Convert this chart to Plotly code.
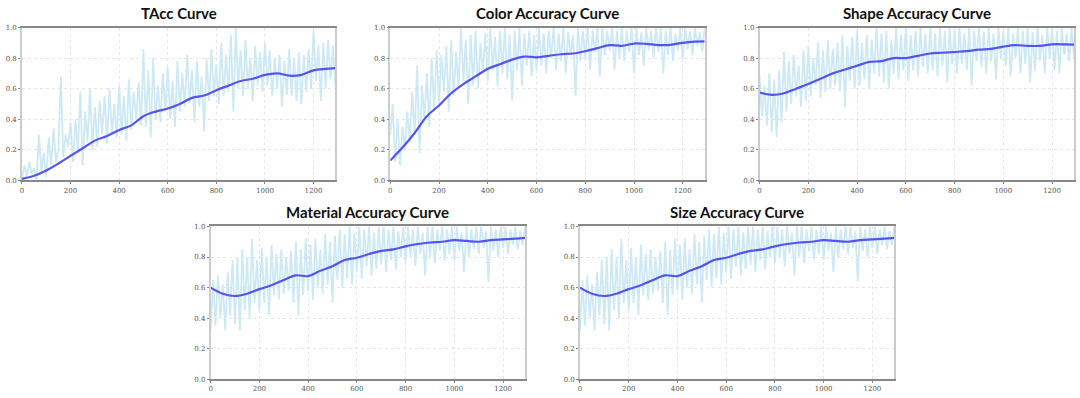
import plotly.graph_objects as go

# ---------------- data ----------------
steps_noisy = list(range(0, 1300, 10))          # 130 training checkpoints
steps_smooth = list(range(0, 1300, 50)) + [1290]  # smoothed curve checkpoints

tacc_noisy = [
    0.00, 0.10, 0.02, 0.12, 0.04, 0.08, 0.00, 0.30, 0.05, 0.18,
    0.02, 0.28, 0.10, 0.34, 0.12, 0.20, 0.68, 0.15, 0.30, 0.22,
    0.38, 0.12, 0.40, 0.18, 0.58, 0.10, 0.45, 0.25, 0.60, 0.20,
    0.48, 0.22, 0.52, 0.30, 0.55, 0.24, 0.60, 0.30, 0.50, 0.28,
    0.62, 0.30, 0.55, 0.26, 0.66, 0.33, 0.58, 0.40, 0.64, 0.36,
    0.86, 0.35, 0.72, 0.28, 0.80, 0.40, 0.62, 0.38, 0.70, 0.45,
    0.74, 0.40, 0.65, 0.35, 0.78, 0.45, 0.70, 0.48, 0.82, 0.50,
    0.72, 0.38, 0.78, 0.48, 0.68, 0.32, 0.80, 0.52, 0.86, 0.55,
    0.76, 0.50, 0.90, 0.55, 0.82, 0.58, 0.95, 0.45, 1.00, 0.60,
    0.85, 0.55, 0.92, 0.60, 0.80, 0.52, 0.88, 0.62, 0.84, 0.58,
    0.90, 0.62, 0.85, 0.55, 0.80, 0.60, 0.82, 0.48, 0.78, 0.56,
    0.86, 0.55, 0.80, 0.52, 0.84, 0.50, 0.82, 0.58, 0.86, 0.60,
    0.98, 0.65, 0.88, 0.52, 0.90, 0.60, 0.92, 0.66, 0.88, 0.62,
]
tacc_smooth = [0.01, 0.03, 0.065, 0.11, 0.16, 0.21, 0.26, 0.29, 0.33, 0.36,
               0.42, 0.45, 0.47, 0.50, 0.54, 0.555, 0.59, 0.62, 0.65, 0.665,
               0.69, 0.70, 0.685, 0.69, 0.72, 0.73, 0.735]

color_noisy = [
    0.30, 0.50, 0.12, 0.40, 0.10, 0.35, 0.20, 0.45, 0.25, 0.58,
    0.30, 0.75, 0.18, 0.62, 0.40, 0.70, 0.35, 0.80, 0.45, 0.85,
    0.50, 0.82, 0.58, 0.88, 0.45, 0.92, 0.55, 0.84, 0.60, 1.00,
    0.65, 0.92, 0.50, 0.95, 0.62, 0.98, 0.60, 0.90, 0.70, 0.96,
    0.65, 1.00, 0.72, 0.94, 0.62, 0.98, 0.70, 1.00, 0.66, 0.95,
    0.52, 0.98, 0.72, 1.00, 0.62, 0.96, 0.75, 0.98, 0.68, 0.95,
    0.72, 1.00, 0.75, 0.96, 0.70, 0.98, 0.80, 1.00, 0.72, 0.96,
    0.78, 1.00, 0.70, 0.97, 0.82, 0.95, 0.55, 1.00, 0.78, 0.98,
    0.80, 1.00, 0.72, 0.98, 0.84, 1.00, 0.68, 1.00, 0.82, 0.98,
    0.85, 1.00, 0.72, 0.98, 0.80, 1.00, 0.78, 0.98, 0.84, 1.00,
    0.70, 1.00, 0.82, 0.97, 0.75, 1.00, 0.85, 0.98, 0.80, 1.00,
    0.84, 1.00, 0.70, 0.98, 0.82, 1.00, 0.78, 0.96, 0.85, 1.00,
    0.80, 1.00, 0.86, 0.98, 0.82, 1.00, 0.88, 0.97, 0.84, 1.00,
]
color_smooth = [0.13, 0.215, 0.31, 0.42, 0.49, 0.57, 0.63, 0.68, 0.73, 0.76,
                0.79, 0.81, 0.805, 0.815, 0.825, 0.83, 0.845, 0.865, 0.885, 0.88,
                0.895, 0.893, 0.885, 0.887, 0.90, 0.908, 0.91]

shape_noisy = [
    0.68, 0.42, 0.62, 0.36, 0.70, 0.32, 0.66, 0.28, 0.72, 0.38,
    0.84, 0.45, 0.78, 0.50, 0.82, 0.55, 0.75, 0.48, 0.85, 0.52,
    0.88, 0.55, 0.80, 0.62, 0.90, 0.54, 0.85, 0.58, 0.92, 0.60,
    0.86, 0.62, 0.90, 0.58, 0.95, 0.48, 0.88, 0.65, 0.94, 0.60,
    0.98, 0.62, 0.90, 0.66, 0.95, 0.60, 0.92, 0.70, 1.00, 0.68,
    0.96, 0.64, 0.98, 0.60, 0.92, 0.70, 1.00, 0.66, 0.95, 0.72,
    1.00, 0.65, 0.95, 0.72, 0.98, 0.68, 1.00, 0.74, 0.96, 0.70,
    1.00, 0.72, 0.96, 0.68, 1.00, 0.75, 0.98, 0.64, 1.00, 0.76,
    0.98, 0.70, 1.00, 0.76, 0.96, 0.72, 1.00, 0.62, 0.98, 0.78,
    1.00, 0.74, 0.97, 0.70, 1.00, 0.78, 0.96, 0.66, 1.00, 0.80,
    0.98, 0.75, 1.00, 0.68, 0.96, 0.80, 1.00, 0.70, 0.98, 0.76,
    1.00, 0.64, 0.97, 0.72, 1.00, 0.78, 0.95, 0.70, 1.00, 0.80,
    1.00, 0.72, 0.98, 0.70, 1.00, 0.82, 0.96, 0.78, 1.00, 0.80,
]
shape_smooth = [0.575, 0.56, 0.57, 0.60, 0.63, 0.665, 0.70, 0.725, 0.75, 0.775,
                0.78, 0.80, 0.80, 0.815, 0.83, 0.835, 0.84, 0.845, 0.855, 0.86,
                0.875, 0.885, 0.88, 0.88, 0.89, 0.89, 0.888]

material_noisy = [
    0.32, 0.65, 0.35, 0.68, 0.40, 0.62, 0.32, 0.70, 0.42, 0.78,
    0.36, 0.80, 0.32, 0.85, 0.45, 0.80, 0.40, 0.92, 0.50, 0.78,
    0.45, 0.86, 0.50, 0.80, 0.42, 0.88, 0.55, 0.82, 0.52, 0.85,
    0.56, 0.80, 0.58, 0.84, 0.50, 0.90, 0.42, 0.85, 0.55, 0.92,
    0.58, 0.88, 0.52, 0.92, 0.60, 0.85, 0.56, 0.95, 0.62, 0.90,
    0.50, 0.94, 0.65, 0.98, 0.60, 0.95, 0.66, 1.00, 0.62, 0.96,
    0.70, 1.00, 0.66, 0.98, 0.74, 1.00, 0.68, 0.96, 0.72, 1.00,
    0.75, 1.00, 0.70, 0.98, 0.78, 1.00, 0.72, 0.97, 0.80, 1.00,
    0.76, 1.00, 0.80, 0.98, 0.74, 1.00, 0.82, 0.96, 0.68, 1.00,
    0.80, 1.00, 0.76, 0.98, 0.84, 1.00, 0.78, 0.98, 0.82, 1.00,
    0.78, 1.00, 0.84, 0.96, 0.70, 1.00, 0.80, 0.98, 0.85, 1.00,
    0.82, 1.00, 0.86, 0.97, 0.64, 1.00, 0.84, 0.98, 0.80, 1.00,
    0.86, 1.00, 0.82, 0.98, 0.88, 1.00, 0.85, 0.97, 0.88, 1.00,
]
material_smooth = [0.60, 0.56, 0.545, 0.56, 0.59, 0.615, 0.65, 0.68, 0.675, 0.71,
                   0.74, 0.78, 0.795, 0.82, 0.84, 0.85, 0.87, 0.885, 0.895, 0.90,
                   0.91, 0.905, 0.90, 0.91, 0.915, 0.92, 0.925]

size_noisy = list(material_noisy)
size_smooth = list(material_smooth)

titles = ["TAcc Curve", "Color Accuracy Curve", "Shape Accuracy Curve",
          "Material Accuracy Curve", "Size Accuracy Curve"]
x_ticks = [0, 200, 400, 600, 800, 1000, 1200]
y_ticks = [0.0, 0.2, 0.4, 0.6, 0.8, 1.0]

series = [(tacc_noisy, tacc_smooth), (color_noisy, color_smooth),
          (shape_noisy, shape_smooth), (material_noisy, material_smooth),
          (size_noisy, size_smooth)]

# ---------------- layout (pixel boxes: left, right, top, bottom) ----------------
W, H = 1080, 398
boxes = [(20, 334, 24, 180), (389, 704, 24, 180), (759, 1074, 24, 180),
         (209, 524, 227, 383), (579, 894, 227, 383)]

fig = go.Figure()
layout = dict(width=W, height=H, margin=dict(l=0, r=0, t=0, b=0),
              paper_bgcolor="white", plot_bgcolor="white", showlegend=False)
annotations = []

for i, ((noisy, smooth), box, title) in enumerate(zip(series, boxes, titles)):
    n = i + 1
    xa = "x" if n == 1 else f"x{n}"
    ya = "y" if n == 1 else f"y{n}"
    fig.add_trace(go.Scatter(x=steps_noisy, y=noisy, mode="lines",
                             line=dict(color="#cde9f6", width=1.8),
                             xaxis=xa, yaxis=ya, hoverinfo="skip"))
    fig.add_trace(go.Scatter(x=steps_smooth, y=smooth, mode="lines",
                             line=dict(color="#5555ee", width=2.2, shape="spline"),
                             xaxis=xa, yaxis=ya))
    l, r, t, b = box
    xd = [l / W, r / W]
    yd = [1 - b / H, 1 - t / H]
    tickfont = dict(family="DejaVu Serif", size=7, color="#555")
    layout["xaxis" if n == 1 else f"xaxis{n}"] = dict(
        domain=xd, anchor=ya, range=[0, 1290], tickvals=x_ticks,
        showgrid=True, gridcolor="#e6e6e6", griddash="dot", gridwidth=1,
        showline=True, linecolor="#888888", linewidth=1.5, mirror=True,
        ticks="outside", ticklen=2, tickcolor="#888", tickfont=tickfont,
        zeroline=False, fixedrange=True)
    layout["yaxis" if n == 1 else f"yaxis{n}"] = dict(
        domain=yd, anchor=xa, range=[0, 1.0], tickvals=y_ticks,
        ticktext=[f"{v:.1f}" for v in y_ticks],
        showgrid=True, gridcolor="#e6e6e6", griddash="dot", gridwidth=1,
        showline=True, linecolor="#cccccc", linewidth=1.5, mirror=True,
        ticks="outside", ticklen=2, tickcolor="#888", tickfont=tickfont,
        zeroline=False, fixedrange=True)
    annotations.append(dict(text=f"<b>{title}</b>", x=(xd[0] + xd[1]) / 2,
                            y=yd[1] + 15 / H, xref="paper", yref="paper",
                            xanchor="center", yanchor="middle", showarrow=False,
                            font=dict(family="Lato", size=15, color="#111")))

layout["annotations"] = annotations
fig.update_layout(**layout)
fig.write_html("out.html",
               config={"displayModeBar": False},
               post_script="document.body.style.margin='0';"
                           "document.body.style.overflow='hidden';")
